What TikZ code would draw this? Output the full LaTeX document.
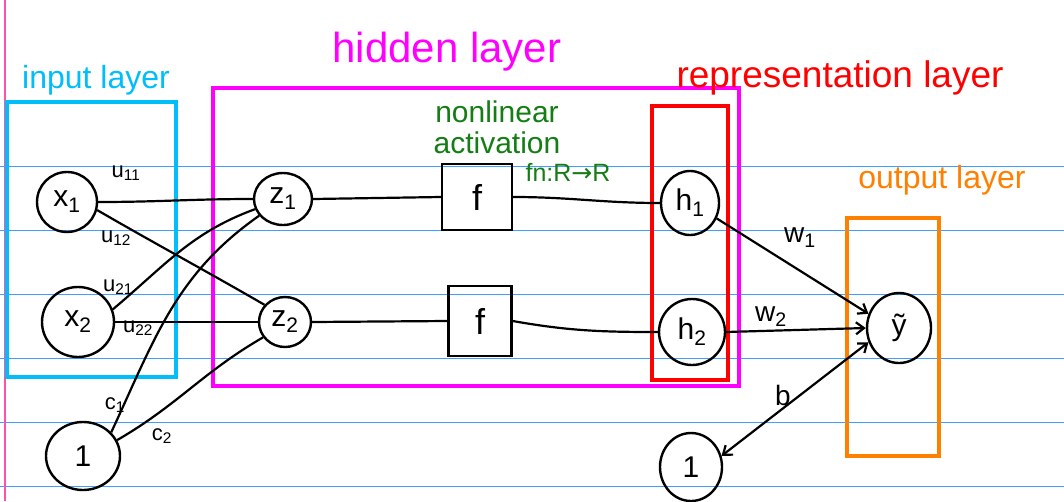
\documentclass[tikz,border=0pt]{standalone}
\usepackage{fontspec}
\setmainfont{Liberation Sans}
\newfontfamily\dvs{DejaVu Sans}
\usetikzlibrary{shapes.geometric,arrows.meta}
\definecolor{rulecol}{RGB}{60,160,255}
\definecolor{margincol}{RGB}{255,80,170}
\definecolor{incol}{RGB}{0,190,250}
\definecolor{hidcol}{RGB}{255,0,255}
\definecolor{repcol}{RGB}{255,0,0}
\definecolor{outcol}{RGB}{255,128,0}
\definecolor{grn}{RGB}{20,125,20}
\newcommand{\sbs}[1]{\textsubscript{#1}}
\begin{document}
\begin{tikzpicture}[x=1pt,y=-1pt,
  neuron/.style={draw, ellipse, line width=2.4pt, inner sep=0pt, font=\fontsize{30}{32}\selectfont},
  fbox/.style={draw, rectangle, line width=2.4pt, inner sep=0pt, font=\fontsize{36}{38}\selectfont},
  conn/.style={line width=2.2pt},
  arr/.style={conn, -{Straight Barb[length=8pt,width=12pt]}},
  layerbox/.style={line width=3.5pt},
  title/.style={font=\fontsize{#1}{#1}\selectfont, inner sep=0pt},
  lbl/.style={font=\fontsize{22}{22}\selectfont, inner sep=0pt},
  ruleline/.style={rulecol, line width=1pt}]
\fill[white] (0,0) rectangle (1064,501);
\useasboundingbox (0,0) rectangle (1064,501);
% paper
\foreach \yy in {166,230,294,358,422,486} \draw[ruleline] (0,\yy) -- (1064,\yy);
\draw[margincol, line width=1.2pt] (5,0) -- (5,501);
% layer boxes
\draw[layerbox, incol] (7,102) rectangle (176,377);
\draw[layerbox, hidcol] (213,88) rectangle (739,386);
\draw[layerbox, repcol] (652,106) rectangle (728,380);
\draw[layerbox, outcol] (847,218) rectangle (939,456);
% titles
\node[title=32, incol] (tin) at (96,80) {input layer};
\node[title=42, hidcol] (thid) at (447,52) {hidden layer};
\node[title=37, repcol] (trep) at (840,78) {representation layer};
\node[title=32, outcol] (tout) at (942,180) {output layer};
\node[grn, align=center, inner sep=0pt, font=\fontsize{30}{31}\selectfont] (tact) at (497,127) {nonlinear\\activation};
\node[title=25, grn] (tfn) at (568,172) {fn:R{\dvs →}R};
% nodes
\node[neuron, minimum width=60pt, minimum height=60pt] (x1) at (67,202) {x\sbs{1}};
\node[neuron, minimum width=72pt, minimum height=70pt] (x2) at (78,322) {x\sbs{2}};
\node[neuron, minimum width=74pt, minimum height=68pt] (c) at (83,456) {1};
\node[neuron, minimum width=58pt, minimum height=52pt] (z1) at (283,199) {z\sbs{1}};
\node[neuron, minimum width=52pt, minimum height=50pt] (z2) at (285,322) {z\sbs{2}};
\node[fbox, minimum width=70pt, minimum height=66pt] (f1) at (477,197) {f};
\node[fbox, minimum width=63pt, minimum height=70pt] (f2) at (480,321) {f};
\node[neuron, minimum width=58pt, minimum height=64pt] (h1) at (690,203) {h\sbs{1}};
\node[neuron, minimum width=66pt, minimum height=66pt] (h2) at (692,332) {h\sbs{2}};
\node[neuron, minimum width=64pt, minimum height=70pt] (y) at (899,328) {ỹ};
\node[neuron, minimum width=62pt, minimum height=68pt] (b1) at (691,467) {1};
% input -> hidden
\draw[conn] (x1.east) to[out=0,in=180] (z1.west);
\draw[conn] (x1.-15) to[out=-30,in=150] (z2.140);
\draw[conn] (x2.20) to[out=40,in=200] (z1.200);
\draw[conn] (x2.east) to[out=0,in=180] (z2.west);
\draw[conn] (c.40) to[out=65,in=215] (z1.215);
\draw[conn] (c.25) to[out=30,in=210] (z2.215);
% hidden
\draw[conn] (z1.east) -- (f1.west);
\draw[conn] (f1.east) to[out=0,in=180] (h1.west);
\draw[conn] (z2.east) -- (f2.west);
\draw[conn] (f2.east) to[out=-10,in=180] (h2.west);
% output
\draw[arr] (h1.-30) -- (y.155);
\draw[arr] (h2.east) -- (y.west);
\draw[conn, {Straight Barb[length=8pt,width=12pt]}-{Straight Barb[length=8pt,width=12pt]}] (b1.20) -- (y.205);
% labels
\node[lbl] (lu11) at (126,173) {u\sbs{11}};
\node[lbl] (lu12) at (116,238) {u\sbs{12}};
\node[lbl] (lu21) at (118,287) {u\sbs{21}};
\node[lbl] (lu22) at (138,328) {u\sbs{22}};
\node[lbl] (lc1) at (115,405) {c\sbs{1}};
\node[lbl] (lc2) at (162,436) {c\sbs{2}};
\node[lbl, font=\fontsize{28}{28}\selectfont] (lw1) at (800,238) {w\sbs{1}};
\node[lbl, font=\fontsize{28}{28}\selectfont] (lw2) at (771,317) {w\sbs{2}};
\node[lbl, font=\fontsize{28}{28}\selectfont] (lb) at (783,395) {b};
\end{tikzpicture}
\end{document}
